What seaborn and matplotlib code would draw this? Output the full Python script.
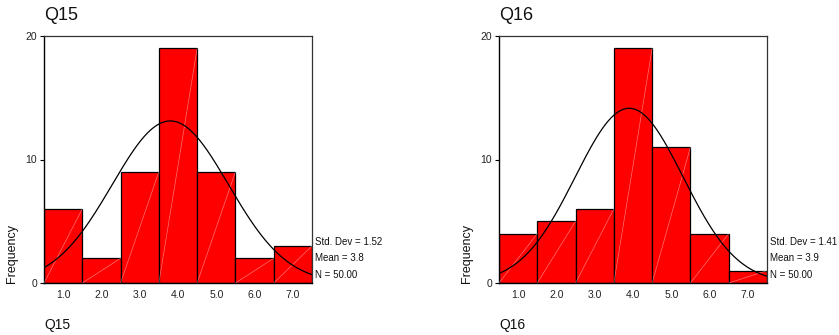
import numpy as np
import pandas as pd
import matplotlib
matplotlib.use("Agg")
import matplotlib.pyplot as plt
import seaborn as sns

# Data
values = [1, 2, 3, 4, 5, 6, 7]
tick_labels = ["1.0", "2.0", "3.0", "4.0", "5.0", "6.0", "7.0"]
q15_counts = [6, 2, 9, 19, 9, 2, 3]
q16_counts = [4, 5, 6, 19, 11, 4, 1]
q15_stats = {"sd": 1.52, "mean": 3.8, "n": 50}
q16_stats = {"sd": 1.41, "mean": 3.9, "n": 50}
names = ["Q15", "Q16"]

sns.set_theme(style="white")
plt.rcParams["font.family"] = ["Liberation Sans", "DejaVu Sans"]

fig = plt.figure(figsize=(8.39, 3.35), dpi=100)
W, H = 839, 335

def px_axes(x0, x1, y0, y1):
    return fig.add_axes([x0 / W, 1 - y1 / H, (x1 - x0) / W, (y1 - y0) / H])

panels = [
    (names[0], q15_counts, q15_stats, 44, 312),
    (names[1], q16_counts, q16_stats, 499, 767),
]

for name, counts, st, x0, x1 in panels:
    ax = px_axes(x0, x1, 36, 283)
    df = pd.DataFrame({"v": values, "c": counts})
    sns.histplot(data=df, x="v", weights="c", discrete=True, ax=ax,
                 color="#ff0000", edgecolor="black", linewidth=0.9, alpha=1.0)
    # white diagonal hatch line per bar (SPSS style)
    for v, c in zip(values, counts):
        ax.plot([v - 0.5, v + 0.5], [0, c], color="white", lw=0.5, alpha=0.45, zorder=3)
    # normal curve from stated mean/sd
    xs = np.linspace(0.5, 7.5, 300)
    ys = st["n"] * 1.0 / (st["sd"] * np.sqrt(2 * np.pi)) * np.exp(-0.5 * ((xs - st["mean"]) / st["sd"]) ** 2)
    sns.lineplot(x=xs, y=ys, ax=ax, color="black", lw=0.9, zorder=4)
    ax.set_xlim(0.5, 7.5)
    ax.set_ylim(0, 20)
    ax.set_xticks(values)
    ax.set_xticklabels(tick_labels)
    ax.set_yticks([0, 10, 20])
    ax.set_yticklabels(["0", "10", "20"])
    ax.tick_params(axis="x", length=0, pad=5, labelsize=7.5, colors="#222222")
    ax.tick_params(axis="y", length=3, width=0.8, pad=2, labelsize=7.5, colors="#222222", left=True)
    ax.tick_params(axis="y", color="black")
    ax.set_xlabel("")
    ax.set_ylabel("")
    for s in ["left", "bottom"]:
        ax.spines[s].set_color("black")
        ax.spines[s].set_linewidth(1.0)
    for s in ["top", "right"]:
        ax.spines[s].set_color("#333333")
        ax.spines[s].set_linewidth(0.9)
    # texts
    fig.text(x0 / W, 1 - 15 / H, name, ha="left", va="center", fontsize=13, color="#111111")
    fig.text(x0 / W, 1 - 325 / H, name, ha="left", va="center", fontsize=10, color="#111111")
    fig.text((x0 - 32) / W, 1 - 283 / H, "Frequency", rotation=90, ha="center", va="bottom",
             fontsize=9, color="#111111")
    fig.text((x1 + 3) / W, 1 - 242 / H, f"Std. Dev = {st['sd']:.2f}", ha="left", va="center",
             fontsize=7, color="#111111")
    fig.text((x1 + 3) / W, 1 - 258 / H, f"Mean = {st['mean']:.1f}", ha="left", va="center",
             fontsize=7, color="#111111")
    fig.text((x1 + 3) / W, 1 - 275 / H, f"N = {st['n']:.2f}", ha="left", va="center",
             fontsize=7, color="#111111")

fig.savefig("out.png", dpi=100, facecolor="white")
